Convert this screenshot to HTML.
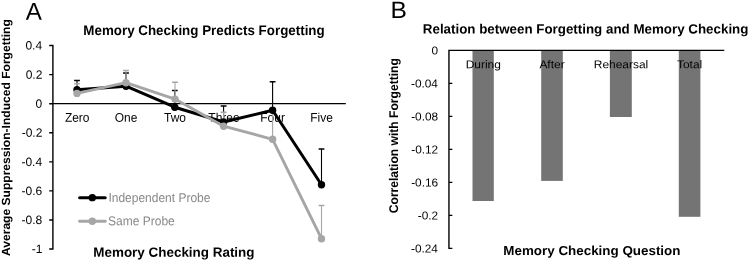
<!DOCTYPE html>
<html><head><meta charset="utf-8"><title>Figure</title>
<style>
html,body{margin:0;padding:0;background:#fff;}
body{width:749px;height:261px;overflow:hidden;}
svg{display:block;will-change:transform;text-rendering:geometricPrecision;}
text{font-family:"Liberation Sans",Arial,sans-serif;fill:#000;}
.b{font-weight:bold;}
.ax{stroke:#000;fill:none;}
</style></head><body>
<svg width="749" height="261" viewBox="0 0 749 261">
<rect width="749" height="261" fill="#fff"/>

<!-- PANEL A -->
<text transform="translate(33.90,19.65) rotate(0.03)" x="-8.05" y="0" font-size="24.5" textLength="16.10" lengthAdjust="spacingAndGlyphs">A</text>
<text transform="translate(204.00,35) rotate(0.03)" x="-120.69" y="0" font-size="13.9" class="b" textLength="241.39" lengthAdjust="spacingAndGlyphs">Memory Checking Predicts Forgetting</text>
<text transform="translate(173.90,256.7) rotate(0.03)" x="-80.60" y="0" font-size="13.4" class="b" textLength="161.20" lengthAdjust="spacingAndGlyphs">Memory Checking Rating</text>
<text transform="translate(10.3,255.7) rotate(-90)" x="-0.30" y="0" font-size="11.8" class="b" textLength="236.81" lengthAdjust="spacingAndGlyphs">Average Suppression-Induced Forgetting</text>
<path class="ax" stroke-width="1.4" d="M52.9 44.85V249.75M49.20 45.55H52.9M49.20 74.62H52.9M49.20 103.69H52.9M49.20 132.76H52.9M49.20 161.84H52.9M49.20 190.91H52.9M49.20 219.98H52.9M49.20 249.05H52.9M52.20 103.65H345.8"/>
<text transform="translate(33.75,49.6) rotate(0.03)" x="-8.35" y="0" font-size="12.1" textLength="16.70" lengthAdjust="spacingAndGlyphs">0.4</text>
<text transform="translate(34.00,78.67) rotate(0.03)" x="-8.35" y="0" font-size="12.1" textLength="16.70" lengthAdjust="spacingAndGlyphs">0.2</text>
<text transform="translate(38.88,107.74) rotate(0.03)" x="-3.34" y="0" font-size="12.1" textLength="6.68" lengthAdjust="spacingAndGlyphs">0</text>
<text transform="translate(32.00,136.81) rotate(0.03)" x="-10.35" y="0" font-size="12.1" textLength="20.70" lengthAdjust="spacingAndGlyphs">-0.2</text>
<text transform="translate(31.75,165.89) rotate(0.03)" x="-10.35" y="0" font-size="12.1" textLength="20.70" lengthAdjust="spacingAndGlyphs">-0.4</text>
<text transform="translate(31.93,194.96) rotate(0.03)" x="-10.35" y="0" font-size="12.1" textLength="20.70" lengthAdjust="spacingAndGlyphs">-0.6</text>
<text transform="translate(31.92,224.03) rotate(0.03)" x="-10.35" y="0" font-size="12.1" textLength="20.70" lengthAdjust="spacingAndGlyphs">-0.8</text>
<text transform="translate(36.99,253.1) rotate(0.03)" x="-5.34" y="0" font-size="12.1" textLength="10.68" lengthAdjust="spacingAndGlyphs">-1</text>
<text transform="translate(77.20,121.8) rotate(0.03)" x="-12.31" y="0" font-size="12.6" textLength="24.61" lengthAdjust="spacingAndGlyphs">Zero</text>
<text transform="translate(126.00,121.8) rotate(0.03)" x="-11.31" y="0" font-size="12.6" textLength="22.62" lengthAdjust="spacingAndGlyphs">One</text>
<text transform="translate(175.00,121.8) rotate(0.03)" x="-10.98" y="0" font-size="12.6" textLength="21.95" lengthAdjust="spacingAndGlyphs">Two</text>
<text transform="translate(224.00,121.8) rotate(0.03)" x="-15.63" y="0" font-size="12.6" textLength="31.27" lengthAdjust="spacingAndGlyphs">Three</text>
<text transform="translate(272.60,121.8) rotate(0.03)" x="-12.31" y="0" font-size="12.6" textLength="24.61" lengthAdjust="spacingAndGlyphs">Four</text>
<text transform="translate(321.60,121.8) rotate(0.03)" x="-11.31" y="0" font-size="12.6" textLength="22.61" lengthAdjust="spacingAndGlyphs">Five</text>
<path d="M77 89.8V80.4M126 86.2V73.1M174.8 107.2V90.5M223.6 122V106M272.6 110.3V81.7M321.5 184.7V148.9" stroke="#000" stroke-width="1.1" fill="none"/><path d="M74.10 80.4H79.90M123.10 73.1H128.90M171.90 90.5H177.70M220.70 106H226.50M269.70 81.7H275.50M318.60 148.9H324.40" stroke="#000" stroke-width="1.5" fill="none"/>
<path d="M77 93.4V83.8M126 82.7V70.6M175 99.1V82.3M223.6 126.2V112.3M272.6 139.3V110.5M321.5 238.7V205.4" stroke="#a6a6a6" stroke-width="1.1" fill="none"/><path d="M74.10 83.8H79.90M123.10 70.6H128.90M172.10 82.3H177.90M220.70 112.3H226.50M269.70 110.5H275.50M318.60 205.4H324.40" stroke="#a6a6a6" stroke-width="1.5" fill="none"/>
<polyline points="77,89.8 126,86.2 174.8,107.2 223.6,122 272.6,110.3 321.5,184.7" fill="none" stroke="#000" stroke-width="3.0" stroke-linejoin="round" stroke-linecap="round"/><g fill="#000"><circle cx="77" cy="89.8" r="3.7"/><circle cx="126" cy="86.2" r="3.7"/><circle cx="174.8" cy="107.2" r="3.7"/><circle cx="223.6" cy="122" r="3.7"/><circle cx="272.6" cy="110.3" r="3.7"/><circle cx="321.5" cy="184.7" r="3.7"/></g>
<polyline points="77,93.4 126,82.7 175,99.1 223.6,126.2 272.6,139.3 321.5,238.7" fill="none" stroke="#a6a6a6" stroke-width="2.9" stroke-linejoin="round" stroke-linecap="round"/><g fill="#a6a6a6"><circle cx="77" cy="93.4" r="3.7"/><circle cx="126" cy="82.7" r="3.7"/><circle cx="175" cy="99.1" r="3.7"/><circle cx="223.6" cy="126.2" r="3.7"/><circle cx="272.6" cy="139.3" r="3.7"/><circle cx="321.5" cy="238.7" r="3.7"/></g>
<path d="M79.6 197.65H105.2" stroke="#000" stroke-width="3.0" stroke-linecap="round"/><circle cx="92.3" cy="197.65" r="3.7"/>
<text transform="translate(159.41,201.9) rotate(0.03)" x="-51.02" y="0" font-size="12.8" textLength="102.03" lengthAdjust="spacingAndGlyphs" style="fill:#878787">Independent Probe</text>
<path d="M79.6 221.2H105.2" stroke="#a6a6a6" stroke-width="2.9" stroke-linecap="round"/><circle cx="92.3" cy="221.2" r="3.7" fill="#a6a6a6"/>
<text transform="translate(141.39,225.2) rotate(0.03)" x="-33.33" y="0" font-size="12.8" textLength="66.67" lengthAdjust="spacingAndGlyphs" style="fill:#878787">Same Probe</text>
<!-- PANEL B -->
<text transform="translate(398.58,17.95) rotate(0.03)" x="-8.20" y="0" font-size="23.6" textLength="16.39" lengthAdjust="spacingAndGlyphs">B</text>
<text transform="translate(585.60,33.5) rotate(0.03)" x="-162.79" y="0" font-size="13.4" class="b" textLength="325.58" lengthAdjust="spacingAndGlyphs">Relation between Forgetting and Memory Checking</text>
<text transform="translate(591.86,255.05) rotate(0.03)" x="-88.56" y="0" font-size="13.0" class="b" textLength="177.12" lengthAdjust="spacingAndGlyphs">Memory Checking Question</text>
<text transform="translate(397.7,212.7) rotate(-90)" x="-0.50" y="0" font-size="12.6" class="b" textLength="155.00" lengthAdjust="spacingAndGlyphs">Correlation with Forgetting</text>
<g fill="#747474">
<rect x="472.5" y="50.35" width="21.30" height="150.65"/>
<rect x="541.2" y="50.35" width="21.60" height="130.55"/>
<rect x="609.9" y="50.35" width="21.90" height="66.65"/>
<rect x="678.8" y="50.35" width="21.60" height="166.45"/>
</g>
<path class="ax" stroke-width="1.4" d="M448.95 49.65V249.05M448.95 83.35H452.35M448.95 116.35H452.35M448.95 149.35H452.35M448.95 182.35H452.35M448.95 215.35H452.35M448.95 248.35H452.35M448.25 50.35H724.3"/>
<text transform="translate(434.77,54.4) rotate(0.03)" x="-3.29" y="0" font-size="11.6" textLength="6.58" lengthAdjust="spacingAndGlyphs">0</text>
<text transform="translate(424.46,87.4) rotate(0.03)" x="-13.48" y="0" font-size="11.6" textLength="26.97" lengthAdjust="spacingAndGlyphs">-0.04</text>
<text transform="translate(424.63,120.4) rotate(0.03)" x="-13.48" y="0" font-size="11.6" textLength="26.97" lengthAdjust="spacingAndGlyphs">-0.08</text>
<text transform="translate(424.71,153.4) rotate(0.03)" x="-13.48" y="0" font-size="11.6" textLength="26.97" lengthAdjust="spacingAndGlyphs">-0.12</text>
<text transform="translate(424.64,186.4) rotate(0.03)" x="-13.48" y="0" font-size="11.6" textLength="26.97" lengthAdjust="spacingAndGlyphs">-0.16</text>
<text transform="translate(428.00,219.4) rotate(0.03)" x="-10.19" y="0" font-size="11.6" textLength="20.39" lengthAdjust="spacingAndGlyphs">-0.2</text>
<text transform="translate(424.46,252.4) rotate(0.03)" x="-13.48" y="0" font-size="11.6" textLength="26.97" lengthAdjust="spacingAndGlyphs">-0.24</text>
<text transform="translate(483.30,68.15) rotate(0.03)" x="-17.61" y="0" font-size="11.4" textLength="35.23" lengthAdjust="spacingAndGlyphs">During</text>
<text transform="translate(552.00,68.15) rotate(0.03)" x="-12.63" y="0" font-size="11.4" textLength="25.25" lengthAdjust="spacingAndGlyphs">After</text>
<text transform="translate(621.00,68.15) rotate(0.03)" x="-27.25" y="0" font-size="11.4" textLength="54.51" lengthAdjust="spacingAndGlyphs">Rehearsal</text>
<text transform="translate(689.60,68.15) rotate(0.03)" x="-12.63" y="0" font-size="11.4" textLength="25.26" lengthAdjust="spacingAndGlyphs">Total</text>
</svg>
</body></html>
